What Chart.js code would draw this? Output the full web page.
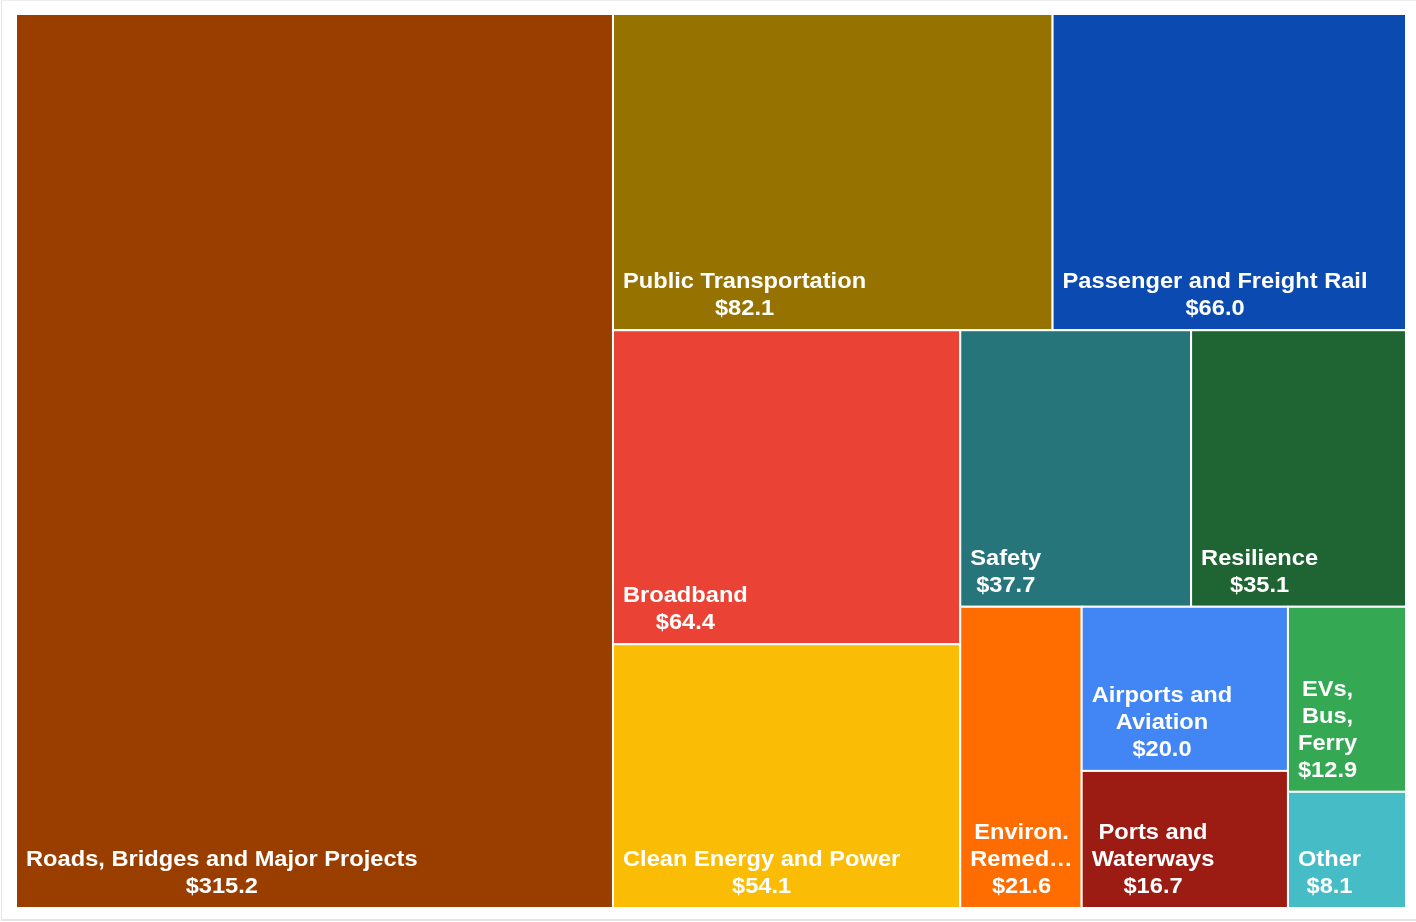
<!DOCTYPE html>
<html>
<head>
<meta charset="utf-8">
<script src="https://cdn.jsdelivr.net/npm/chart.js@4.4.1/dist/chart.umd.min.js"></script>
<style>
  html, body { margin: 0; padding: 0; background: #fff; }
  #frame {
    position: absolute; left: 1px; top: 0; width: 1416px; height: 921px;
    border-left: 1px solid #e6e6e6; border-top: 1px solid #ededed; border-bottom: 2px solid #e6e6e6;
    box-sizing: border-box;
  }
  #wrap { position: absolute; left: 0; top: 0; width: 1416px; height: 922px; }
</style>
</head>
<body>
<div id="frame"></div>
<div id="wrap"><canvas id="treemapChart"></canvas></div>
<script>
// Infrastructure spending by category ($ billions)
const labels = [
    'Roads, Bridges and Major Projects',
    'Public Transportation',
    'Passenger and Freight Rail',
    'Broadband',
    'Clean Energy and Power',
    'Safety',
    'Resilience',
    'Environ. Remediation',
    'Airports and Aviation',
    'Ports and Waterways',
    'EVs, Bus, Ferry',
    'Other'
];
const values = [315.2, 82.1, 66.0, 64.4, 54.1, 37.7, 35.1, 21.6, 20.0, 16.7, 12.9, 8.1];
const colors = [
    '#9a3e00', // Roads
    '#967300', // Public transport
    '#0b4ab0', // Rail
    '#ea4335', // Broadband
    '#fabc04', // Clean energy
    '#26757a', // Safety
    '#1f6433', // Resilience
    '#ff6d01', // Environ.
    '#4285f4', // Airports
    '#9c1b13', // Ports
    '#34a853', // EVs
    '#46bdc6'  // Other
];

const TILE_RATIO = 0.78;   // squarify target ratio
const FONT_SIZE = 21.5;
const TEXT_STRETCH = 1.1;  // labels in the original are slightly wide
const LINE_H = 27;

// d3-style squarify, works in whatever units the box is given in
function squarify(vals, ratio, x0, y0, x1, y1) {
    const out = [];
    const n = vals.length;
    let value = vals.reduce((a, b) => a + b, 0);
    let i0 = 0;
    while (i0 < n) {
        const dx = x1 - x0, dy = y1 - y0;
        let i1 = i0;
        let sum = vals[i1++];
        let minV = sum, maxV = sum;
        const alpha = Math.max(dy / dx, dx / dy) / (value * ratio);
        let beta = sum * sum * alpha;
        let minRatio = Math.max(maxV / beta, beta / minV);
        for (; i1 < n; ++i1) {
            const v = vals[i1];
            sum += v;
            if (v < minV) minV = v;
            if (v > maxV) maxV = v;
            beta = sum * sum * alpha;
            const r = Math.max(maxV / beta, beta / minV);
            if (r > minRatio) { sum -= v; break; }
            minRatio = r;
        }
        if (dx < dy) {
            // horizontal strip along the top
            const h = i1 >= n ? dy : dy * sum / value;
            let x = x0;
            for (let i = i0; i < i1; i++) {
                const w = dx * vals[i] / sum;
                out.push({ x0: x, y0: y0, x1: x + w, y1: y0 + h });
                x += w;
            }
            y0 += h;
        } else {
            // vertical strip on the left
            const w = i1 >= n ? dx : dx * sum / value;
            let y = y0;
            for (let i = i0; i < i1; i++) {
                const h = dy * vals[i] / sum;
                out.push({ x0: x0, y0: y, x1: x0 + w, y1: y + h });
                y += h;
            }
            x0 += w;
        }
        value -= sum;
        i0 = i1;
    }
    return out;
}

function textWidth(ctx, s) {
    return ctx.measureText(s).width * TEXT_STRETCH;
}

function fitWord(ctx, word, maxW) {
    if (textWidth(ctx, word) <= maxW) return word;
    let s = word;
    while (s.length > 1 && textWidth(ctx, s + '\u2026') > maxW) s = s.slice(0, -1);
    return s + '\u2026';
}

function wrapLabel(ctx, text, maxW) {
    const words = text.split(' ');
    const lines = [];
    let cur = '';
    words.forEach(function (w) {
        const test = cur ? cur + ' ' + w : w;
        if (cur && textWidth(ctx, test) > maxW) {
            lines.push(fitWord(ctx, cur, maxW));
            cur = w;
        } else {
            cur = test;
        }
    });
    if (cur) lines.push(fitWord(ctx, cur, maxW));
    return lines;
}

const treemapPlugin = {
    id: 'treemap',
    afterLayout(chart) {
        const area = chart.chartArea;
        const W = area.right - area.left, H = area.bottom - area.top;
        // layout in pixel proportions, stored as 0..1 fractions on the scales
        chart.$tiles = squarify(values, TILE_RATIO, 0, 0, W, H).map(function (t) {
            return { x0: t.x0 / W, y0: t.y0 / H, x1: t.x1 / W, y1: t.y1 / H };
        });
    },
    afterDatasetsDraw(chart) {
        const ctx = chart.ctx;
        const xs = chart.scales.x, ys = chart.scales.y;
        const tiles = chart.$tiles || [];
        ctx.save();
        tiles.forEach(function (t, i) {
            const left = xs.getPixelForValue(t.x0), right = xs.getPixelForValue(t.x1);
            const top = ys.getPixelForValue(t.y0), bottom = ys.getPixelForValue(t.y1);
            ctx.fillStyle = colors[i];
            ctx.fillRect(left, top, right - left, bottom - top);
            ctx.strokeStyle = '#ffffff';
            ctx.lineWidth = 2;
            ctx.strokeRect(left, top, right - left, bottom - top);
        });

        ctx.font = 'bold ' + FONT_SIZE + 'px "Liberation Sans", Arial, sans-serif';
        ctx.fillStyle = '#ffffff';
        ctx.textAlign = 'center';
        ctx.textBaseline = 'alphabetic';
        tiles.forEach(function (t, i) {
            const left = xs.getPixelForValue(t.x0), right = xs.getPixelForValue(t.x1);
            const bottom = ys.getPixelForValue(t.y1);
            const maxW = right - left - 17;
            const lines = wrapLabel(ctx, labels[i], maxW);
            lines.push('$' + values[i].toFixed(1));
            const blockW = Math.max.apply(null, lines.map(function (l) { return textWidth(ctx, l); }));
            const cx = left + 10 + blockW / 2;
            lines.forEach(function (line, k) {
                const y = bottom - 15 - (lines.length - 1 - k) * LINE_H;
                ctx.save();
                ctx.translate(cx, y);
                ctx.scale(TEXT_STRETCH, 1);
                ctx.fillText(line, 0, 0);
                ctx.restore();
            });
        });
        ctx.restore();
    }
};

document.addEventListener('DOMContentLoaded', function () {
    const el = document.getElementById('treemapChart');
    new Chart(el, {
        type: 'scatter',
        data: {
            labels: labels,
            datasets: [{
                label: 'Spending',
                data: [],
                pointRadius: 0
            }]
        },
        options: {
            responsive: true,
            maintainAspectRatio: false,
            animation: false,
            layout: {
                padding: { left: 16, top: 14, right: 10, bottom: 14 }
            },
            scales: {
                x: { type: 'linear', min: 0, max: 1, display: false },
                y: { type: 'linear', min: 0, max: 1, reverse: true, display: false }
            },
            plugins: {
                legend: { display: false },
                tooltip: { enabled: false }
            }
        },
        plugins: [treemapPlugin]
    });
});
</script>
</body>
</html>
